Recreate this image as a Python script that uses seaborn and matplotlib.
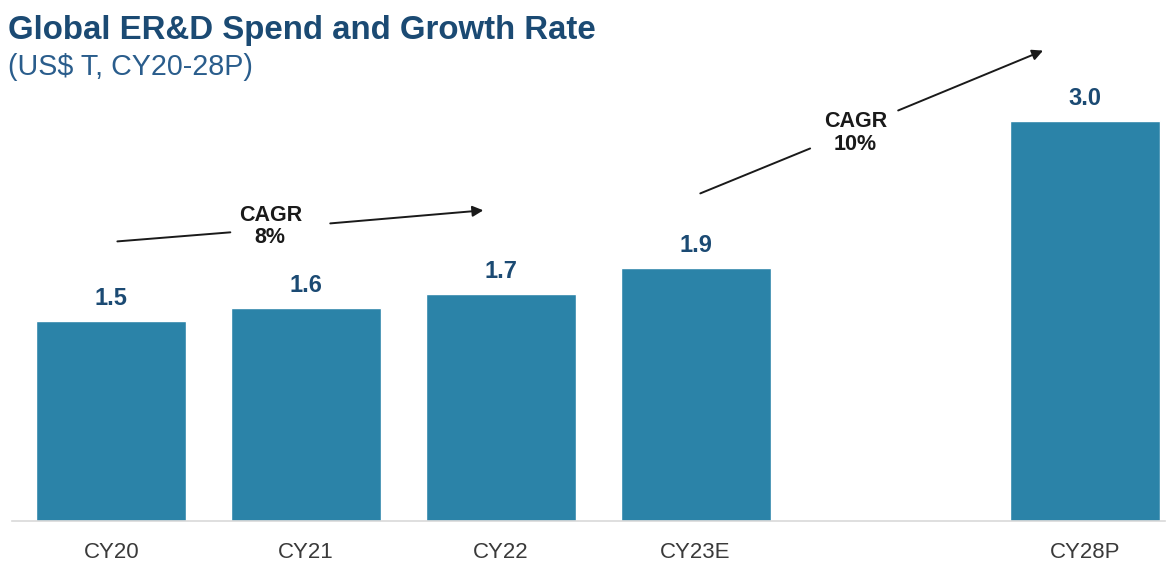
import matplotlib
matplotlib.use("Agg")
import matplotlib.pyplot as plt
import seaborn as sns
import pandas as pd

# Global ER&D spend, US$ trillion
years = ["CY20", "CY21", "CY22", "CY23E", "CY28P"]
spend = [1.5, 1.6, 1.7, 1.9, 3.0]
# slot order leaves an empty gap between the estimate and the projection
slot_order = ["CY20", "CY21", "CY22", "CY23E", " ", "CY28P"]
cagr_labels = ["CAGR\n8%", "CAGR\n10%"]

sns.set_theme(style="white")
plt.rcParams["font.family"] = ["Liberation Sans", "DejaVu Sans"]

BAR = "#2b83a8"
NAVY = "#1b4a73"

df = pd.DataFrame({"year": years, "spend": spend})

fig = plt.figure(figsize=(11.67, 5.61), dpi=100)
ax = fig.add_axes([12 / 1167, 40 / 561, 1153 / 1167, 480 / 561])

sns.barplot(data=df, x="year", y="spend", order=slot_order, color=BAR,
            saturation=1, width=0.77, ax=ax)

ax.set_xlim(-0.51, 5.41)
ax.set_ylim(0, 3.6)
ax.set_xlabel("")
ax.set_ylabel("")
ax.set_yticks([])
for s in ["top", "right", "left"]:
    ax.spines[s].set_visible(False)
ax.spines["bottom"].set_color("#d9d9d9")
ax.spines["bottom"].set_linewidth(1.2)
ax.tick_params(axis="x", length=0, pad=15, labelsize=16, labelcolor="#3a3a3a")

for cont in ax.containers:
    ax.bar_label(cont, fmt="%.1f", padding=8, fontsize=17, fontweight="bold",
                 color=NAVY)

# CAGR trend arrows, each broken around its label
arrow_kw = dict(color="#1a1a1a", lw=1.4)
segments = [
    ((0.031, 2.097), (0.611, 2.165), (1.124, 2.232), (1.910, 2.330), (0.816, 2.21)),
    ((3.024, 2.457), (3.588, 2.794), (4.040, 3.079), (4.784, 3.528), (3.82, 2.91)),
]
for (p0, p1, p2, p3, pt), lab in zip(segments, cagr_labels):
    ax.plot([p0[0], p1[0]], [p0[1], p1[1]], clip_on=False, **arrow_kw)
    ax.annotate("", xy=p3, xytext=p2,
                arrowprops=dict(arrowstyle="-|>", color="#1a1a1a", lw=1.4,
                                mutation_scale=16, shrinkA=0, shrinkB=0),
                annotation_clip=False)
    ax.text(pt[0], pt[1], lab, ha="center", va="center", fontsize=15.5,
            fontweight="bold", color="#1a1a1a", linespacing=1.1)

fig.text(8 / 1167, 1 - 30 / 561, "Global ER&D Spend and Growth Rate",
         fontsize=23.8, fontweight="bold", color=NAVY, ha="left", va="center")
fig.text(8 / 1167, 1 - 67 / 561, "(US$ T, CY20-28P)",
         fontsize=20.6, color="#2a5d8c", ha="left", va="center")

fig.savefig("out.png", dpi=100, facecolor="white")
